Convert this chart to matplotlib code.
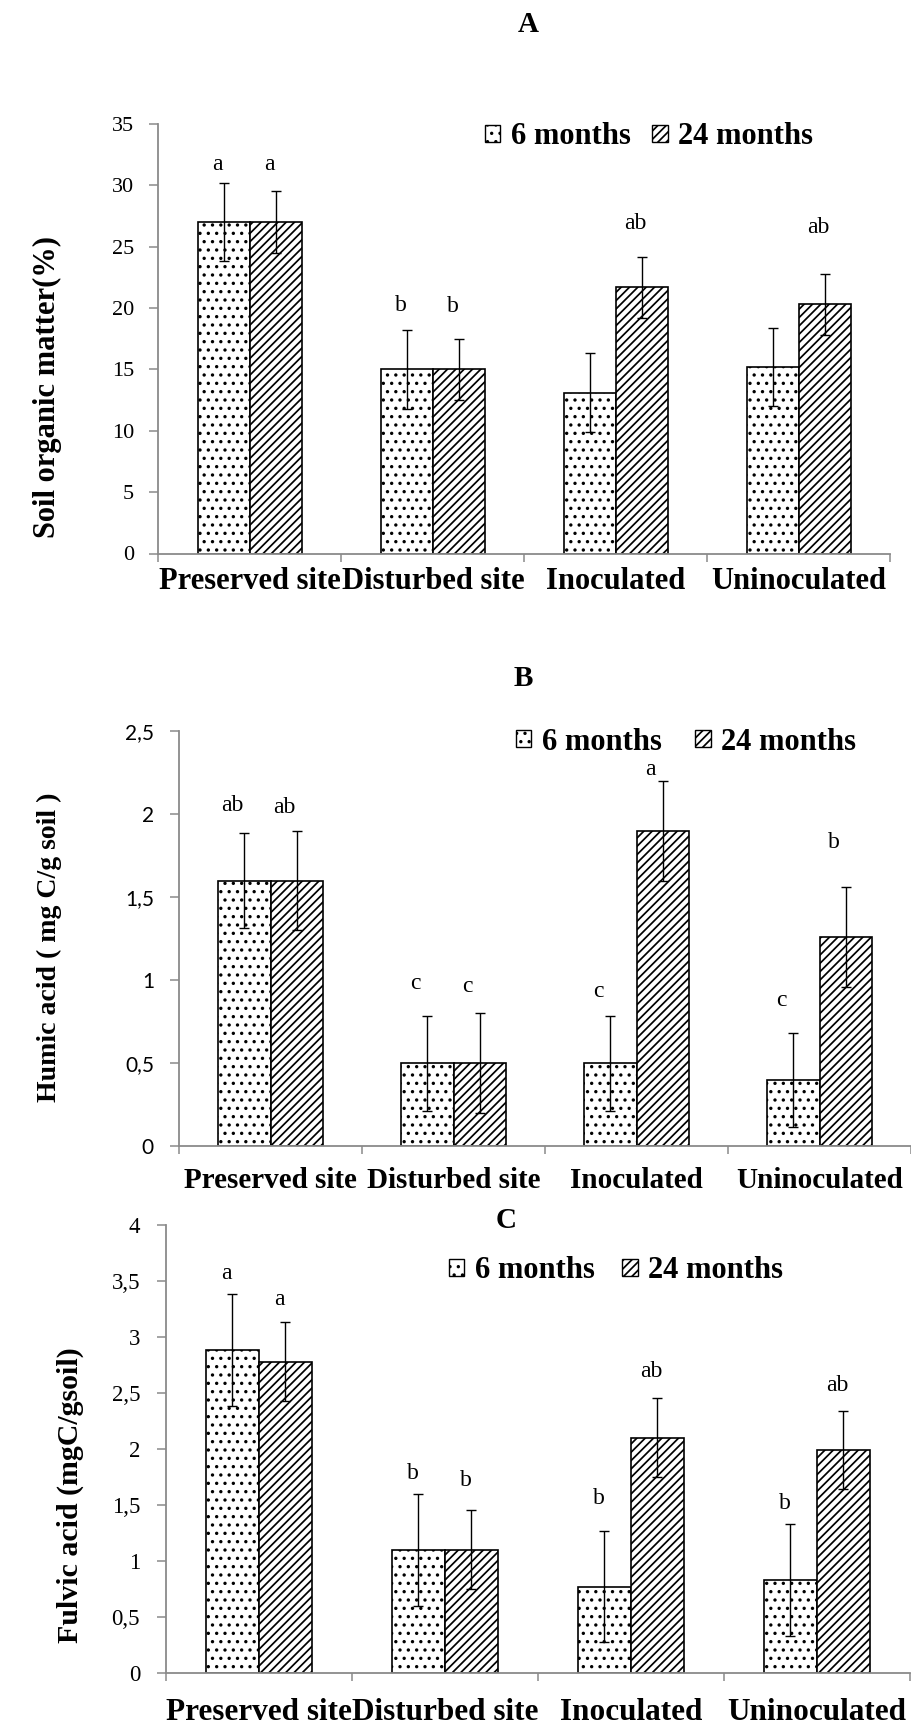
import numpy as np
import matplotlib
matplotlib.use("Agg")
import matplotlib as mpl
import matplotlib.pyplot as plt
from matplotlib.patches import Patch
from matplotlib.ticker import FixedLocator, FuncFormatter

# ---------------- data ----------------
categories = ["Preserved site", "Disturbed site", "Inoculated", "Uninoculated"]
series_names = ["6 months", "24 months"]

# Panel A: Soil organic matter (%)
som_6 = [27.0, 15.0, 13.1, 15.2]
som_24 = [27.0, 15.0, 21.7, 20.3]
som_err_6 = [3.2, 3.2, 3.2, 3.2]
som_err_24 = [2.5, 2.5, 2.5, 2.5]
som_letters_6 = ["a", "b", "", ""]
som_letters_24 = ["a", "b", "ab", "ab"]
som_letter_y_6 = [31.7, 20.2, 0, 0]
som_letter_y_24 = [31.7, 20.1, 26.9, 26.6]

# Panel B: Humic acid (mg C/g soil)
hum_6 = [1.6, 0.5, 0.5, 0.4]
hum_24 = [1.6, 0.5, 1.9, 1.26]
hum_err_6 = [0.285, 0.285, 0.285, 0.285]
hum_err_24 = [0.3, 0.3, 0.3, 0.3]
hum_letters_6 = ["ab", "c", "c", "c"]
hum_letters_24 = ["ab", "c", "a", "b"]
hum_letter_y_6 = [2.05, 0.98, 0.93, 0.88]
hum_letter_y_24 = [2.04, 0.96, 2.27, 1.83]

# Panel C: Fulvic acid (mgC/gsoil)
ful_6 = [2.88, 1.1, 0.77, 0.83]
ful_24 = [2.78, 1.1, 2.1, 1.99]
ful_err_6 = [0.5, 0.5, 0.5, 0.5]
ful_err_24 = [0.35, 0.35, 0.35, 0.35]
ful_letters_6 = ["a", "b", "b", "b"]
ful_letters_24 = ["a", "b", "ab", "ab"]
ful_letter_y_6 = [3.57, 1.78, 1.56, 1.51]
ful_letter_y_24 = [3.33, 1.72, 2.69, 2.57]

# ---------------- style ----------------
W, H = 912, 1725
SERIF = ["Liberation Serif", "DejaVu Serif"]
SANS = ["Lato", "Liberation Sans", "DejaVu Sans"]
GRAY = "#8a8a8a"
HATCH_DOT = ".."
HATCH_STRIPE = "////"
DOT_LW = 1.2
STRIPE_LW = 1.25

fig = plt.figure(figsize=(W / 100, H / 100), dpi=100)


def fx(px):
    return px / W


def fy(py):
    return 1 - py / H


def set_hlw(artist, hlw):
    if hasattr(artist, "set_hatch_linewidth"):
        artist.set_hatch_linewidth(hlw)


def make_bar(ax, x, vals, hatch, hlw):
    with mpl.rc_context({"hatch.linewidth": hlw}):
        bars = ax.bar(x, vals, width=0.286, color="white", edgecolor="black",
                      linewidth=1.2, hatch=hatch, zorder=2)
    for b in bars:
        set_hlw(b, hlw)
    return bars


def panel(rect_px, vals6, vals24, err6, err24, lets6, lets24, ly6, ly24,
          ylim, yticks, ylabel, ylabel_px, ylabel_size, title, title_px,
          tick_family, tick_size, tick_pad, legend_px, colspace, letter_dx,
          xlab_pad, xlab_size):
    left, right, top, bottom = rect_px
    ax = fig.add_axes([fx(left), fy(bottom), fx(right - left), (bottom - top) / H])
    x = np.arange(len(categories))
    w = 0.286
    make_bar(ax, x - w / 2, vals6, HATCH_DOT, DOT_LW)
    make_bar(ax, x + w / 2, vals24, HATCH_STRIPE, STRIPE_LW)
    ax.errorbar(x - w / 2, vals6, yerr=err6, fmt="none", ecolor="black",
                elinewidth=1.0, capsize=3.8, capthick=1.0, zorder=3)
    ax.errorbar(x + w / 2, vals24, yerr=err24, fmt="none", ecolor="black",
                elinewidth=1.0, capsize=3.8, capthick=1.0, zorder=3)
    for i in range(len(categories)):
        if lets6[i]:
            ax.text(x[i] - w / 2 + letter_dx, ly6[i], lets6[i], ha="center",
                    va="center", fontsize=17, family=SERIF)
        if lets24[i]:
            ax.text(x[i] + w / 2 + letter_dx, ly24[i], lets24[i], ha="center",
                    va="center", fontsize=17, family=SERIF)

    ax.set_xlim(-0.5, len(categories) - 0.5)
    ax.set_ylim(*ylim)
    for s in ["top", "right"]:
        ax.spines[s].set_visible(False)
    for s in ["left", "bottom"]:
        ax.spines[s].set_color(GRAY)
        ax.spines[s].set_linewidth(1.3)

    ax.set_xticks(x)
    ax.set_xticklabels(categories, fontsize=xlab_size, fontweight="bold",
                       family=SERIF)
    ax.tick_params(axis="x", which="major", length=0, pad=xlab_pad)
    ax.xaxis.set_minor_locator(FixedLocator(np.arange(-0.5, len(categories), 1.0)))
    ax.tick_params(axis="x", which="minor", length=5.5, width=1.1, color=GRAY,
                   direction="out")

    ax.set_yticks(yticks)
    ax.yaxis.set_major_formatter(FuncFormatter(
        lambda v, p: ("%g" % v).replace(".", ",")))
    ax.tick_params(axis="y", length=6.5, width=1.1, color=GRAY, direction="out",
                   pad=tick_pad, labelsize=tick_size)
    for t in ax.get_yticklabels():
        t.set_family(tick_family)

    fig.text(fx(ylabel_px[0]), fy(ylabel_px[1]), ylabel, rotation=90,
             ha="center", va="center", fontsize=ylabel_size, fontweight="bold",
             family=SERIF)
    fig.text(fx(title_px[0]), fy(title_px[1]), title, ha="center", va="center",
             fontsize=21, fontweight="bold", family=SERIF)

    with mpl.rc_context({"hatch.linewidth": DOT_LW}):
        h1 = Patch(facecolor="white", edgecolor="black", hatch=HATCH_DOT,
                   linewidth=1.0)
    with mpl.rc_context({"hatch.linewidth": STRIPE_LW}):
        h2 = Patch(facecolor="white", edgecolor="black", hatch=HATCH_STRIPE,
                   linewidth=1.0)
    leg = fig.legend([h1, h2], series_names, loc="center left",
                     bbox_to_anchor=(fx(legend_px[0]), fy(legend_px[1])),
                     bbox_transform=fig.transFigure, ncol=2, frameon=False,
                     borderpad=0, borderaxespad=0, handlelength=0.5,
                     handleheight=0.5, handletextpad=0.35,
                     columnspacing=colspace,
                     prop={"family": SERIF, "weight": "bold", "size": 22})
    lp = leg.get_patches()
    if len(lp) == 2:
        set_hlw(lp[0], DOT_LW)
        set_hlw(lp[1], STRIPE_LW)
    return ax


panel((158.5, 890.5, 124, 553.5), som_6, som_24, som_err_6, som_err_24,
      som_letters_6, som_letters_24, som_letter_y_6, som_letter_y_24,
      (0, 35), [0, 5, 10, 15, 20, 25, 30, 35], "Soil organic matter(%)",
      (47, 387), 22, "A", (528, 24), SERIF, 16, 11, (485, 137), 0.7, -0.035,
      10, 22)

panel((179, 911, 731, 1146.4), hum_6, hum_24, hum_err_6, hum_err_24,
      hum_letters_6, hum_letters_24, hum_letter_y_6, hum_letter_y_24,
      (0, 2.5), [0, 0.5, 1, 1.5, 2, 2.5], "Humic acid ( mg C/g soil )",
      (49, 947), 20, "B", (523, 679), SANS, 15, 11.5, (516, 742), 1.1, -0.065,
      15, 21)

panel((165.7, 909.7, 1225, 1672.7), ful_6, ful_24, ful_err_6, ful_err_24,
      ful_letters_6, ful_letters_24, ful_letter_y_6, ful_letter_y_24,
      (0, 4), [0, 0.5, 1, 1.5, 2, 2.5, 3, 3.5, 4], "Fulvic acid (mgC/gsoil)",
      (70, 1495), 21.5, "C", (506, 1220), SERIF, 16.5, 12, (449, 1271), 0.9, -0.03,
      18, 22.5)

fig.savefig("out.png", dpi=100)
